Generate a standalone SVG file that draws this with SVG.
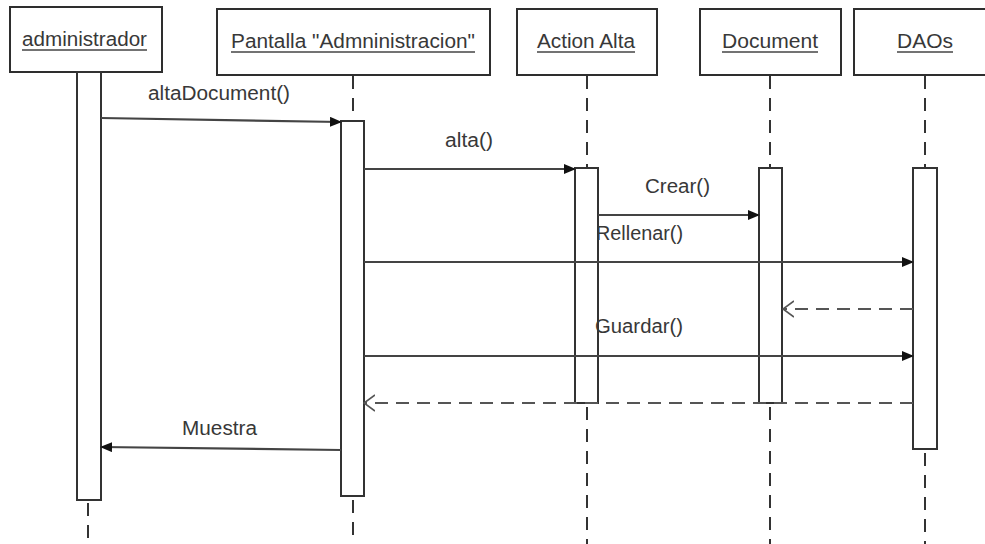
<svg xmlns="http://www.w3.org/2000/svg" width="985" height="544" viewBox="0 0 985 544">
  <style>
    .box { fill: #ffffff; stroke: #2e2e2e; stroke-width: 2; }
    .bar { fill: #ffffff; stroke: #333333; stroke-width: 2; }
    .life { stroke: #333333; stroke-width: 2; stroke-dasharray: 13 9; fill: none; }
    .name { font-family: "Liberation Sans", Arial, sans-serif; font-size: 20px; fill: #383838; }
    .uline { stroke: #444444; stroke-width: 1.5; }
    .msg { stroke: #444444; stroke-width: 2.2; fill: none; }
    .ret { stroke: #555555; stroke-width: 2.2; fill: none; stroke-dasharray: 13 8; }
    .lbl { font-family: "Liberation Sans", Arial, sans-serif; font-size: 20px; fill: #383838; }
  </style>
  <defs>
    <marker id="solidHead" viewBox="0 0 12 10" refX="11" refY="5" markerWidth="12" markerHeight="10" markerUnits="userSpaceOnUse" orient="auto">
      <path d="M0,0 L12,5 L0,10 Z" fill="#111111"/>
    </marker>
    <marker id="openHead" viewBox="0 0 12 18" refX="11" refY="9" markerWidth="12" markerHeight="18" markerUnits="userSpaceOnUse" orient="auto">
      <path d="M0,1 L11,9 L0,17" fill="none" stroke="#555555" stroke-width="1.6"/>
    </marker>
  </defs>

  <rect width="985" height="544" fill="#ffffff"/>

  <!-- lifeline: administrador -->
  <g id="administrador">
    <rect class="box" x="10" y="7" width="152" height="65"/>
    <text class="name" x="22" y="46" textLength="125" lengthAdjust="spacingAndGlyphs">administrador</text>
    <line class="uline" x1="22" y1="50" x2="147" y2="50"/>
    <rect class="bar" x="77" y="72" width="24" height="428"/>
    <line class="life" x1="88" y1="503" x2="88" y2="544"/>
  </g>

  <!-- lifeline: Pantalla "Admninistracion" -->
  <g id="pantalla">
    <rect class="box" x="217" y="9" width="273" height="66"/>
    <text class="name" x="231" y="48" textLength="244" lengthAdjust="spacingAndGlyphs">Pantalla "Admninistracion"</text>
    <line class="uline" x1="231" y1="52" x2="475" y2="52"/>
    <line class="life" x1="353" y1="76" x2="353" y2="121"/>
    <rect class="bar" x="341" y="121" width="23" height="375"/>
    <line class="life" x1="353" y1="500" x2="353" y2="544"/>
  </g>

  <!-- lifeline: Action Alta -->
  <g id="actionAlta">
    <rect class="box" x="517" y="9" width="140" height="66"/>
    <text class="name" x="537" y="48" textLength="98" lengthAdjust="spacingAndGlyphs">Action Alta</text>
    <line class="uline" x1="537" y1="52" x2="635" y2="52"/>
    <line class="life" x1="587" y1="76" x2="587" y2="168"/>
    <rect class="bar" x="575" y="168" width="23" height="235"/>
    <line class="life" x1="587" y1="407" x2="587" y2="544"/>
  </g>

  <!-- lifeline: Document -->
  <g id="document">
    <rect class="box" x="700" y="9" width="141" height="66"/>
    <text class="name" x="722" y="48" textLength="96" lengthAdjust="spacingAndGlyphs">Document</text>
    <line class="uline" x1="722" y1="52" x2="818" y2="52"/>
    <line class="life" x1="770" y1="76" x2="770" y2="168"/>
    <rect class="bar" x="759" y="168" width="23" height="235"/>
    <line class="life" x1="770" y1="407" x2="770" y2="544"/>
  </g>

  <!-- lifeline: DAOs -->
  <g id="daos">
    <rect class="box" x="854" y="9" width="140" height="66"/>
    <text class="name" x="897" y="48" textLength="56" lengthAdjust="spacingAndGlyphs">DAOs</text>
    <line class="uline" x1="897" y1="52" x2="953" y2="52"/>
    <line class="life" x1="925" y1="76" x2="925" y2="168"/>
    <rect class="bar" x="913" y="168" width="24" height="281"/>
    <line class="life" x1="925" y1="453" x2="925" y2="544"/>
  </g>

  <!-- messages -->
  <g id="connectors">
    <line class="msg" x1="101" y1="118" x2="341" y2="122" marker-end="url(#solidHead)"/>
    <text class="lbl" x="148" y="100" textLength="142" lengthAdjust="spacingAndGlyphs">altaDocument()</text>

    <line class="msg" x1="364" y1="169" x2="575" y2="169" marker-end="url(#solidHead)"/>
    <text class="lbl" x="445" y="147" textLength="48" lengthAdjust="spacingAndGlyphs">alta()</text>

    <line class="msg" x1="598" y1="215" x2="759" y2="215" marker-end="url(#solidHead)"/>
    <text class="lbl" x="645" y="193" textLength="65" lengthAdjust="spacingAndGlyphs">Crear()</text>

    <line class="msg" x1="364" y1="262" x2="913" y2="262" marker-end="url(#solidHead)"/>
    <text class="lbl" x="596" y="240" textLength="87" lengthAdjust="spacingAndGlyphs">Rellenar()</text>

    <line class="ret" x1="913" y1="309" x2="783" y2="309" marker-end="url(#openHead)"/>

    <line class="msg" x1="364" y1="356" x2="913" y2="356" marker-end="url(#solidHead)"/>
    <text class="lbl" x="595" y="333" textLength="88" lengthAdjust="spacingAndGlyphs">Guardar()</text>

    <line class="ret" x1="913" y1="403" x2="364" y2="403" marker-end="url(#openHead)"/>

    <line class="msg" x1="341" y1="450" x2="101" y2="447" marker-end="url(#solidHead)"/>
    <text class="lbl" x="182" y="435" textLength="75" lengthAdjust="spacingAndGlyphs">Muestra</text>
  </g>
</svg>
